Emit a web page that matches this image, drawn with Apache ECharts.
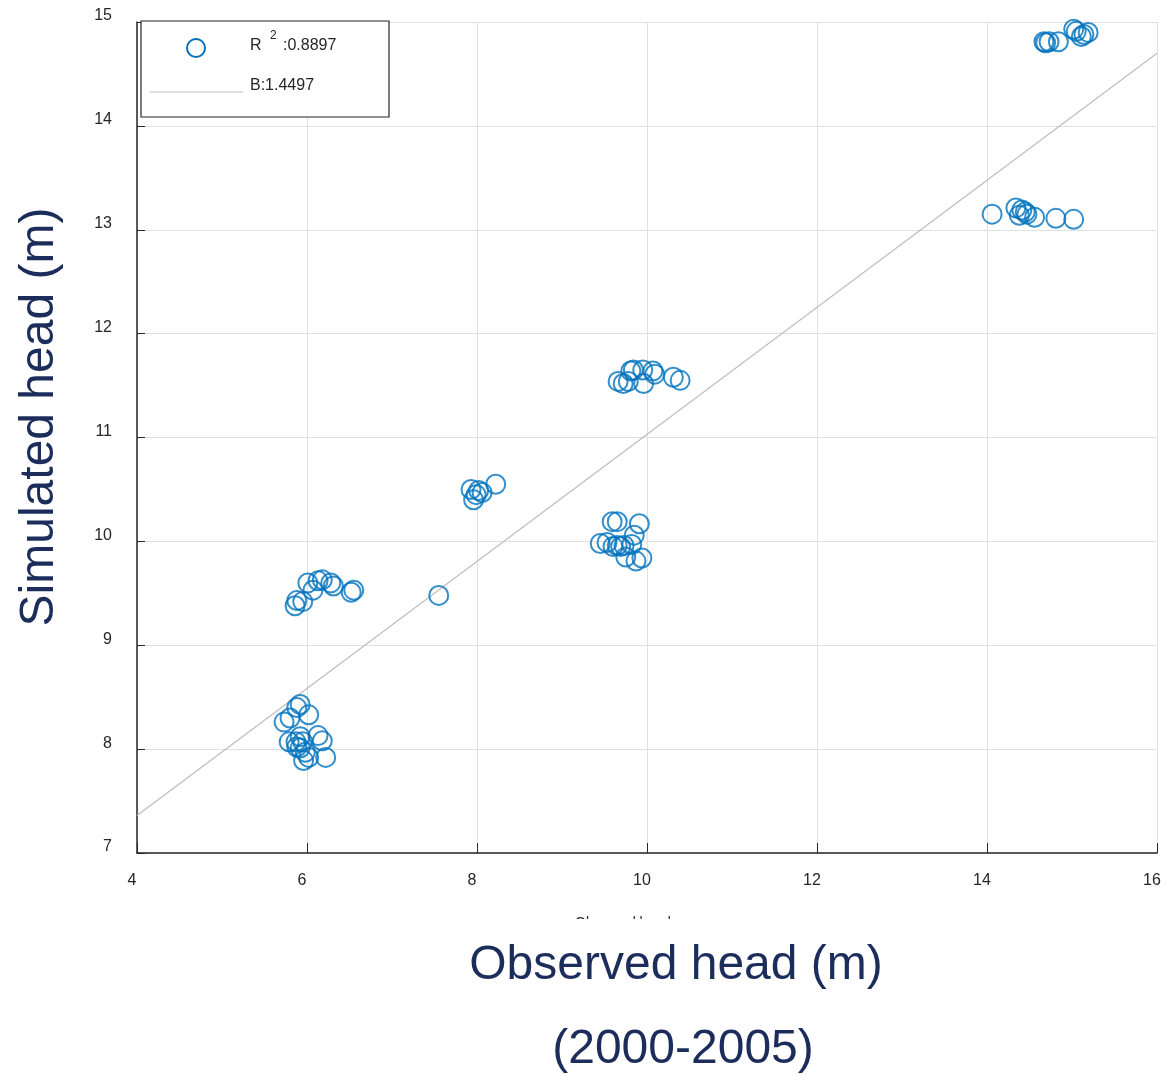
<!DOCTYPE html>
<html>
<head>
<meta charset="utf-8">
<script src="https://cdn.jsdelivr.net/npm/echarts@6/dist/echarts.min.js"></script>
<style>
  html, body { margin: 0; padding: 0; background: #fff; }
  #chart { width: 1173px; height: 1075px; }
</style>
</head>
<body>
<div id="chart"></div>
<script>
// ---- data ----
const observed = [
  // cluster near (6, 8)
  5.73, 5.80, 5.88, 5.92, 6.02, 5.79, 5.88, 5.92, 5.95, 5.98, 5.96, 6.02, 6.13, 6.18, 6.22, 5.92, 5.87,
  // cluster near (6, 9.5)
  5.86, 5.88, 5.95, 6.01, 6.07, 6.13, 6.18, 6.28, 6.31, 6.52, 6.55,
  // single point
  7.55,
  // cluster near (8, 10.45)
  7.93, 7.96, 7.99, 8.02, 8.06, 8.22,
  // cluster near (9.8, 10)
  9.45, 9.53, 9.59, 9.65, 9.60, 9.65, 9.69, 9.75, 9.82, 9.85, 9.87, 9.91, 9.94, 9.73,
  // cluster near (9.9, 11.6)
  9.66, 9.72, 9.78, 9.81, 9.84, 9.96, 9.95, 10.07, 10.09, 10.31, 10.39,
  // cluster near (14.5, 13.15)
  14.06, 14.34, 14.38, 14.41, 14.45, 14.47, 14.56, 14.81, 15.02,
  // cluster near (14.8, 14.85)
  14.67, 14.69, 14.73, 14.84, 15.02, 15.05, 15.11, 15.14, 15.19
];
const simulated = [
  8.26, 8.30, 8.40, 8.43, 8.33, 8.07, 8.02, 8.12, 8.07, 7.97, 7.89, 7.92, 8.13, 8.08, 7.92, 8.01, 8.07,
  9.38, 9.43, 9.42, 9.60, 9.53, 9.62, 9.63, 9.60, 9.57, 9.51, 9.53,
  9.48,
  10.50, 10.40, 10.45, 10.49, 10.47, 10.55,
  9.98, 9.99, 10.19, 10.19, 9.95, 9.96, 9.95, 9.85, 9.97, 10.06, 9.81, 10.17, 9.84, 9.96,
  11.54, 11.52, 11.54, 11.64, 11.65, 11.52, 11.65, 11.64, 11.61, 11.58, 11.55,
  13.15, 13.21, 13.14, 13.19, 13.17, 13.15, 13.12, 13.11, 13.10,
  14.81, 14.80, 14.81, 14.81, 14.93, 14.91, 14.86, 14.88, 14.90
];
const fitX = [4, 16];
const fitY = [7.36, 14.70];
const xTicks = [4, 6, 8, 10, 12, 14, 16];
const yTicks = [7, 8, 9, 10, 11, 12, 13, 14, 15];
const legendR2Label = 'R';
const legendR2Sup = '2';
const legendR2Value = ':0.8897';
const legendBLabel = 'B:1.4497';
const xTitle = 'Observed head (m)';
const yTitle = 'Simulated head (m)';
const subTitle = '(2000-2005)';
const clippedLabel = 'Observed head';

// ---- build ----
const points = observed.map((x, i) => [x, simulated[i]]);
const fitLine = fitX.map((x, i) => [x, fitY[i]]);
const FONT = '"Liberation Sans", Arial, Helvetica, sans-serif';
const BLUE = '#0072BD';
const NAVY = '#1c2d5c';

const chart = echarts.init(document.getElementById('chart'), null, { renderer: 'canvas' });

chart.setOption({
  backgroundColor: '#ffffff',
  animation: false,
  grid: { left: 137, right: 16, top: 22, bottom: 222, containLabel: false },
  xAxis: {
    type: 'value',
    min: xTicks[0], max: xTicks[xTicks.length - 1], interval: 2,
    axisLine: { show: true, onZero: false, lineStyle: { color: '#262626', width: 1.5 } },
    axisTick: { show: true, inside: true, length: 10, lineStyle: { color: '#262626', width: 1 } },
    axisLabel: { margin: 20, fontSize: 16, color: '#262626', fontFamily: FONT, padding: [0, 10, 0, 0] },
    splitLine: { show: true, lineStyle: { color: '#e0e0e0', width: 1 } }
  },
  yAxis: {
    type: 'value',
    min: yTicks[0], max: yTicks[yTicks.length - 1], interval: 1,
    axisLine: { show: true, onZero: false, lineStyle: { color: '#262626', width: 1.5 } },
    axisTick: { show: true, inside: true, length: 8, lineStyle: { color: '#262626', width: 1 } },
    axisLabel: { margin: 25, fontSize: 16, color: '#262626', fontFamily: FONT, verticalAlign: 'bottom', lineHeight: 12 },
    splitLine: { show: true, lineStyle: { color: '#e0e0e0', width: 1 } }
  },
  series: [
    {
      type: 'line',
      data: fitLine,
      showSymbol: false,
      symbol: 'none',
      lineStyle: { color: '#bdbdbd', width: 1.2 },
      z: 2,
      silent: true
    },
    {
      type: 'scatter',
      data: points,
      symbol: 'circle',
      symbolSize: 19,
      itemStyle: { color: 'rgba(0,0,0,0)', borderColor: BLUE, borderWidth: 2 },
      z: 3,
      clip: false
    }
  ],
  graphic: [
    // legend box
    { type: 'rect', shape: { x: 141, y: 21, width: 248, height: 96 },
      style: { fill: '#ffffff', stroke: '#262626', lineWidth: 1.2 }, z: 100 },
    { type: 'circle', shape: { cx: 196, cy: 48, r: 9 },
      style: { fill: 'none', stroke: BLUE, lineWidth: 2 }, z: 101 },
    { type: 'text', x: 250, y: 46, style: { text: legendR2Label, font: '16px ' + FONT, fill: '#262626', textVerticalAlign: 'middle' }, z: 101 },
    { type: 'text', x: 270, y: 36, style: { text: legendR2Sup, font: '12px ' + FONT, fill: '#262626', textVerticalAlign: 'middle' }, z: 101 },
    { type: 'text', x: 283, y: 46, style: { text: legendR2Value, font: '16px ' + FONT, fill: '#262626', textVerticalAlign: 'middle' }, z: 101 },
    { type: 'line', shape: { x1: 150, y1: 92, x2: 243, y2: 92 },
      style: { stroke: '#bdbdbd', lineWidth: 1.2 }, z: 101 },
    { type: 'text', x: 250, y: 86, style: { text: legendBLabel, font: '16px ' + FONT, fill: '#262626', textVerticalAlign: 'middle' }, z: 101 },
    // clipped small label under the axis
    { type: 'text', x: 575, y: 916, style: { text: clippedLabel, font: '14px ' + FONT, fill: '#262626', textVerticalAlign: 'top' }, z: 50 },
    { type: 'rect', shape: { x: 540, y: 919, width: 200, height: 18 }, style: { fill: '#ffffff' }, z: 51 },
    // big titles
    { type: 'text', x: 676, y: 966, style: { text: xTitle, font: '48px ' + FONT, fill: NAVY, textAlign: 'center', textVerticalAlign: 'middle' }, z: 60 },
    { type: 'text', x: 683, y: 1050, style: { text: subTitle, font: '48px ' + FONT, fill: NAVY, textAlign: 'center', textVerticalAlign: 'middle' }, z: 60 },
    { type: 'text', x: 40, y: 417, rotation: Math.PI / 2,
      style: { text: yTitle, font: '48px ' + FONT, fill: NAVY, textAlign: 'center', textVerticalAlign: 'middle' }, z: 60 }
  ]
});
</script>
</body>
</html>
